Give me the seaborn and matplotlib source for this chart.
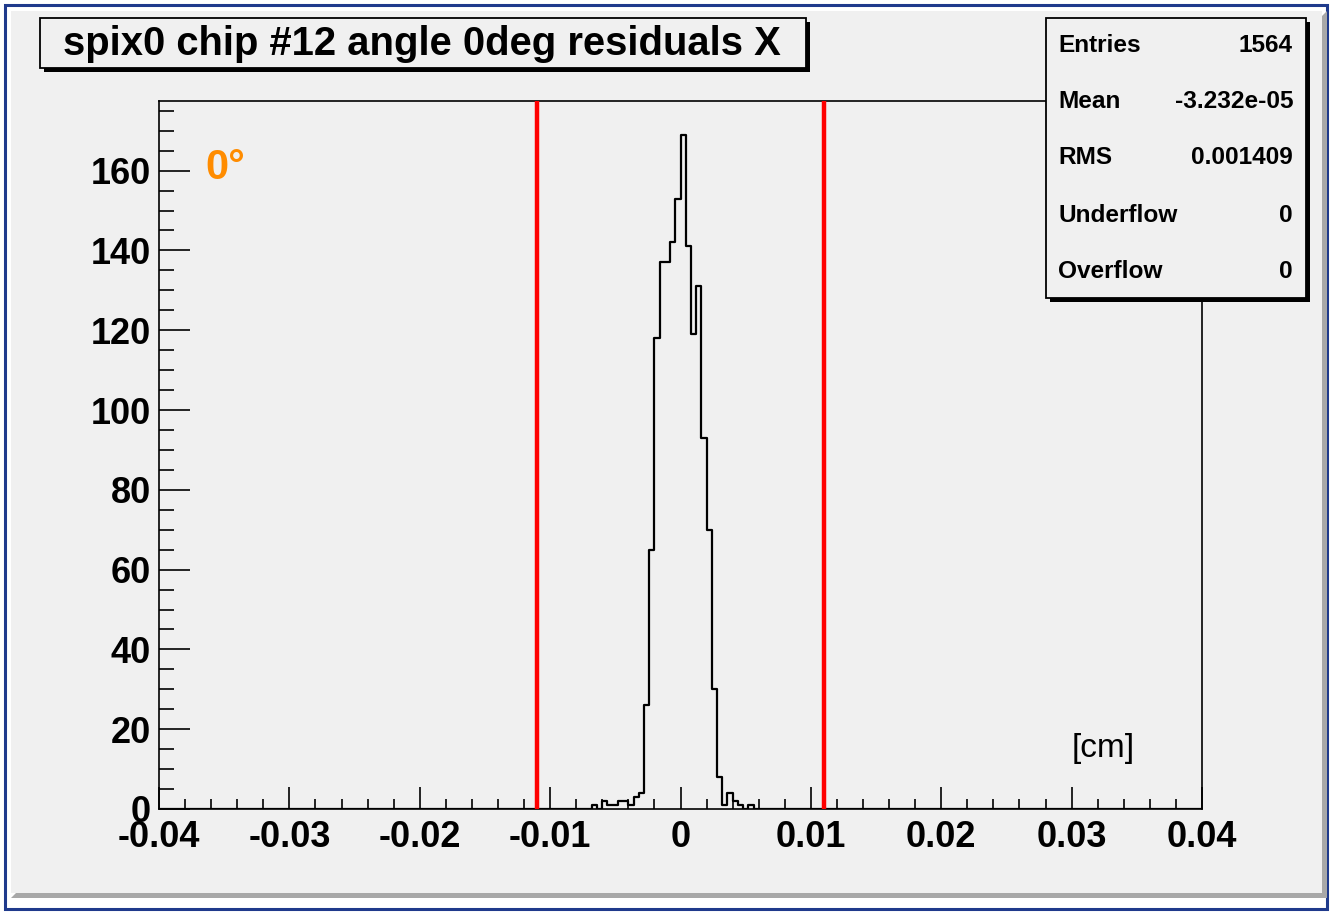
import numpy as np
import pandas as pd
import matplotlib
matplotlib.use("Agg")
import matplotlib.pyplot as plt
import seaborn as sns
from matplotlib.patches import Rectangle, Polygon
from matplotlib.ticker import MultipleLocator, FixedLocator, FixedFormatter

# ---------------- data ----------------
title = "spix0 chip #12 angle 0deg residuals X"
x_unit = "[cm]"
angle_label = "0°"
first_bin_low = -0.0068          # lower edge of first listed bin [cm]
bin_width = 0.0004               # histogram bin width [cm]
n_bins = 200
x_range = (-0.04, 0.04)
counts = [1, 0, 2, 1, 1, 2, 2, 1, 3, 4, 26, 65, 118, 137, 137, 142, 153, 169,
          141, 119, 131, 93, 70, 30, 8, 1, 4, 2, 1, 0, 1]
cut_lines = [-0.011, 0.011]
stat_names = ["Entries", "Mean", "RMS", "Underflow", "Overflow"]
stat_values = ["1564", "-3.232e-05", "0.001409", "0", "0"]
x_ticks = [-0.04, -0.03, -0.02, -0.01, 0.0, 0.01, 0.02, 0.03, 0.04]
x_tick_labels = ["-0.04", "-0.03", "-0.02", "-0.01", "0", "0.01", "0.02", "0.03", "0.04"]
y_ticks = [0, 20, 40, 60, 80, 100, 120, 140, 160]
y_tick_labels = ["0", "20", "40", "60", "80", "100", "120", "140", "160"]

# ---------------- style ----------------
sns.set_style("ticks")
plt.rcParams["font.family"] = ["Liberation Sans", "DejaVu Sans"]
plt.rcParams["font.weight"] = "bold"
for k in ["text.color", "axes.labelcolor", "xtick.color", "ytick.color", "axes.edgecolor"]:
    plt.rcParams[k] = "black"

W, H = 1332, 914
fig = plt.figure(figsize=(W / 100, H / 100), dpi=100)
fig.patch.set_facecolor("white")
GRAY = "#f0f0f0"

# background canvas axes (pixel coordinates)
bg = fig.add_axes([0, 0, 1, 1], zorder=0)
bg.set_xlim(0, W); bg.set_ylim(H, 0); bg.axis("off")
bg.add_patch(Rectangle((5, 5), W - 10, H - 10, fill=False, edgecolor="#1f3a8c", linewidth=2.2))
# bevel shadow (bottom/right)
bg.add_patch(Polygon([(11, 898), (1327, 898), (1327, 11), (1322, 16), (1322, 893), (16, 893)],
                     closed=True, facecolor="#a8a8a8", edgecolor="none"))
bg.add_patch(Rectangle((11, 11), 1311, 882, facecolor=GRAY, edgecolor="none"))

# ---------------- main axes ----------------
L, R, T, B = 159, 1202, 101, 809
ax = fig.add_axes([L / W, 1 - B / H, (R - L) / W, (B - T) / H], zorder=1)
ax.set_facecolor(GRAY)

centers = first_bin_low + bin_width * (np.arange(len(counts)) + 0.5)
df = pd.DataFrame({"x": centers, "w": counts})
sns.histplot(data=df, x="x", weights="w", bins=n_bins, binrange=x_range, element="step",
             fill=False, color="black", linewidth=1.6, ax=ax)

for c in cut_lines:
    ax.axvline(c, color="#ff0000", linewidth=3.2, zorder=3)

ax.set_xlim(*x_range)
ax.set_ylim(0, 1.05 * max(counts))
ax.set_xlabel(""); ax.set_ylabel("")

ax.xaxis.set_major_locator(FixedLocator(x_ticks))
ax.xaxis.set_major_formatter(FixedFormatter(x_tick_labels))
ax.xaxis.set_minor_locator(MultipleLocator(0.002))
ax.yaxis.set_major_locator(FixedLocator(y_ticks))
ax.yaxis.set_major_formatter(FixedFormatter(y_tick_labels))
ax.yaxis.set_minor_locator(MultipleLocator(5))

ax.tick_params(axis="x", which="major", direction="in", length=16, width=1.2, pad=8,
               labelsize=26, top=False, colors="black")
ax.tick_params(axis="x", which="minor", direction="in", length=7.5, width=1.2, top=False,
               colors="black")
ax.tick_params(axis="y", which="major", direction="in", length=22, width=1.2, pad=6,
               labelsize=26, right=False, colors="black")
ax.tick_params(axis="y", which="minor", direction="in", length=11, width=1.2, right=False,
               colors="black")
for lab in ax.get_xticklabels() + ax.get_yticklabels():
    lab.set_fontweight("bold")
for s in ax.spines.values():
    s.set_visible(True)
    s.set_linewidth(1.2)
    s.set_color("black")

ax.text(0.044, 0.905, angle_label, transform=ax.transAxes, color="#ff8c00",
        fontsize=30, fontweight="bold", ha="left", va="center")
ax.text(0.875, 0.085, x_unit, transform=ax.transAxes, color="black",
        fontsize=24, fontweight="normal", ha="left", va="center")

# ---------------- overlay: title box and stats box ----------------
ov = fig.add_axes([0, 0, 1, 1], zorder=3)
ov.set_xlim(0, W); ov.set_ylim(H, 0); ov.axis("off")
ov.patch.set_alpha(0)

def shadow_box(x0, y0, x1, y1, off=4):
    ov.add_patch(Rectangle((x0 + off, y0 + off), x1 - x0, y1 - y0, facecolor="black", edgecolor="none"))
    ov.add_patch(Rectangle((x0, y0), x1 - x0, y1 - y0, facecolor=GRAY, edgecolor="black", linewidth=1.3))

shadow_box(40, 18, 806, 68)
ov.text(422, 44, title, fontsize=28.8, fontweight="bold", ha="center", va="center", color="black")

shadow_box(1046, 18, 1306, 298)
row_y = [45, 102, 158, 215, 272]
for name, val, yy in zip(stat_names, stat_values, row_y):
    ov.text(1058, yy, name, fontsize=17.6, fontweight="bold", ha="left", va="center", color="black")
    ov.text(1293, yy, val, fontsize=17.6, fontweight="bold", ha="right", va="center", color="black")

fig.savefig("out.png", dpi=100, facecolor=fig.get_facecolor())
